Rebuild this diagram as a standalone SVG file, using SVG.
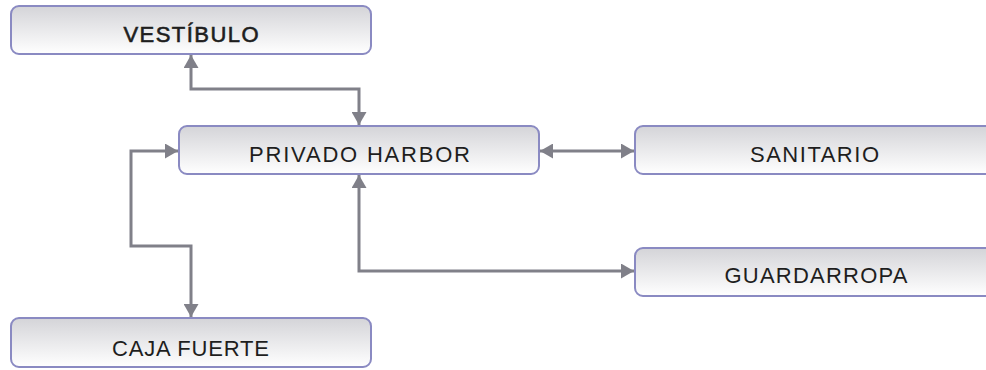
<svg xmlns="http://www.w3.org/2000/svg" width="986" height="370" viewBox="0 0 986 370">
<defs>
<linearGradient id="g" x1="0" y1="0" x2="0" y2="1">
<stop offset="0" stop-color="#d4d4d8"/>
<stop offset="1" stop-color="#ffffff"/>
</linearGradient>
<marker id="ah" markerUnits="userSpaceOnUse" markerWidth="13" markerHeight="15" refX="13" refY="7.5" orient="auto-start-reverse" viewBox="0 0 13 15">
<path d="M0,0 L13,7.5 L0,15 z" fill="#808089"/>
</marker>
</defs>
<style>
.box{fill:url(#g);stroke:#8a8ac2;stroke-width:2}
.lbl{font-family:"Liberation Sans",Arial,sans-serif;font-size:22px;fill:#1e1e1e;text-anchor:middle}
.c{fill:none;stroke:#808089;stroke-width:3;marker-start:url(#ah);marker-end:url(#ah)}
</style>
<rect width="986" height="370" fill="#ffffff"/>
<g id="connectors">
<path class="c" d="M191,55 V89 H359 V125"/>
<path class="c" d="M540,151 H634"/>
<path class="c" d="M359,175 V271 H634"/>
<path class="c" d="M178,151 H131 V246 H191 V317"/>
</g>
<g id="vestibulo">
<rect class="box" x="11" y="6" width="360" height="48" rx="8"/>
<text class="lbl" x="191" y="42" textLength="135" style="stroke:#1e1e1e;stroke-width:0.6">VESTÍBULO</text>
</g>
<g id="privado">
<rect class="box" x="179" y="126" width="360" height="48" rx="8"/>
<text class="lbl" x="359.5" y="162" textLength="221">PRIVADO HARBOR</text>
</g>
<g id="sanitario">
<rect class="box" x="635" y="126" width="360" height="48" rx="8"/>
<text class="lbl" x="814.5" y="162" textLength="129">SANITARIO</text>
</g>
<g id="guardarropa">
<rect class="box" x="635" y="248" width="360" height="48" rx="8"/>
<text class="lbl" x="816" y="283" textLength="183">GUARDARROPA</text>
</g>
<g id="caja">
<rect class="box" x="11" y="318" width="360" height="49" rx="8"/>
<text class="lbl" x="190.5" y="355.5" textLength="157">CAJA FUERTE</text>
</g>
</svg>
